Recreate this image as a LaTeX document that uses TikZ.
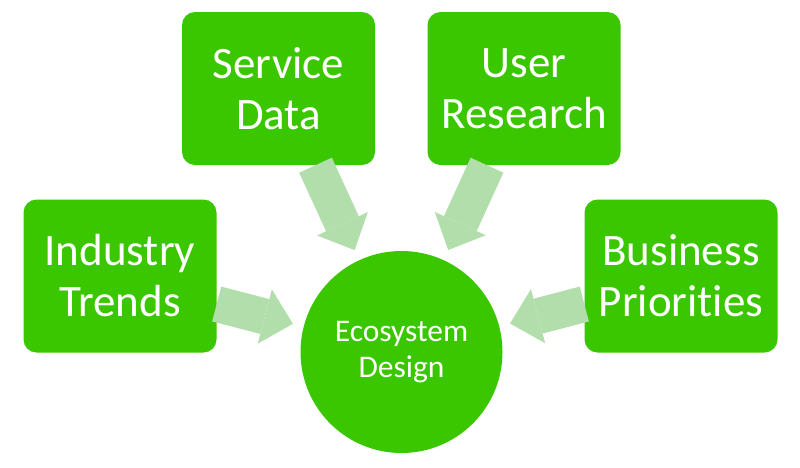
\documentclass[tikz,border=0pt]{standalone}
\usepackage{fontspec}
\setmainfont[Ligatures=NoCommon]{Carlito}
\usepackage{xcolor}
\usetikzlibrary{arrows.meta}
\definecolor{verde}{RGB}{59,199,0}
\definecolor{verdechiaro}{RGB}{177,222,171}

\tikzset{
    riquadro/.style={fill=verde, rounded corners=13pt, minimum width=193pt, minimum height=153pt,
        text=white, align=center, font=\fontsize{45}{51}\selectfont},
    freccia/.style={draw=verdechiaro, line width=36pt,
        -{Triangle[length=29pt,width=56pt,line width=0pt]}, shorten >=11pt}
}

\begin{document}
\begin{tikzpicture}[x=1pt,y=-1pt]
            \useasboundingbox (0,0) rectangle (800,467);

            % Riquadri
            \node[riquadro] (sd) at (278.5,88.5) {Service\\Data};
            \node[riquadro] (ur) at (524,88.5) {User\\Research};
            \node[riquadro] (it) at (120,276) {Industry\\Trends};
            \node[riquadro] (bp) at (681,276) {Business\\Priorities};

            % Cerchio
            \node[circle, fill=verde, minimum size=202pt, text=white, align=center,
                font=\fontsize{31.5}{36.6}\selectfont] (eco) at (401.5,352) {Ecosystem\\Design};

            % Frecce
            \coordinate (f1) at ([xshift=37pt]sd.south);
            \coordinate (f2) at ([xshift=-37pt]ur.south);
            \coordinate (f3) at ([yshift=-28pt]it.east);
            \coordinate (f4) at ([yshift=-28pt]bp.west);

            \draw[freccia] (f1) -- (eco);
            \draw[freccia] (f2) -- (eco);
            \draw[freccia] (f3) -- (eco);
            \draw[freccia] (f4) -- (eco);
        \end{tikzpicture}
\end{document}
